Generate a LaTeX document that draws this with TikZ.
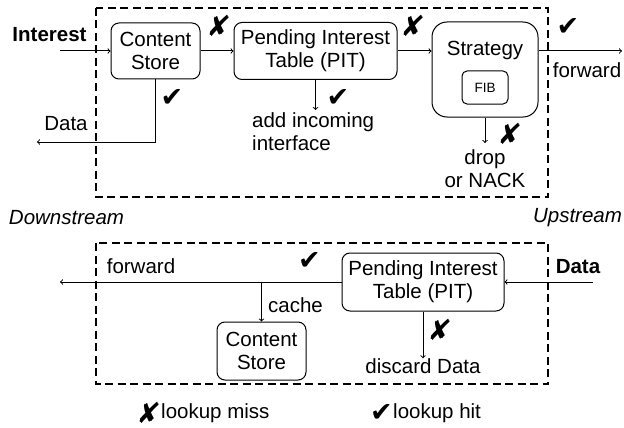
\documentclass[tikz,border=0pt]{standalone}
\usepackage{fontspec}
\setmainfont{Liberation Sans}
\newfontfamily\marksfont{DejaVu Sans}
\usetikzlibrary{arrows}

\newcommand{\yes}{{\marksfont\char"2714}}
\newcommand{\no}{{\marksfont\char"2718}}

\begin{document}
\begin{tikzpicture}[x=1pt,y=-1pt]
    \tikzstyle{edge}=[draw=black,line width=1pt,->]
    \tikzstyle{frame}=[draw=black,line width=1.8pt,dash pattern=on 8pt off 4.5pt]
    \tikzstyle{block}=[draw=black,line width=1pt,rounded corners=8pt,align=center,inner sep=0pt,
        font=\fontsize{20.5}{23}\selectfont]
    \tikzstyle{txt}=[inner sep=0pt,font=\fontsize{20.5}{23}\selectfont]
    \tikzstyle{tick}=[inner sep=0pt,font=\fontsize{27}{27}\selectfont]
    \tikzstyle{cross}=[inner sep=0pt,font=\fontsize{25}{25}\selectfont,xslant=0.2,yscale=1.15]

    \useasboundingbox (0,0) rectangle (624,428);

    \draw[frame] (96,8) rectangle (548,197);
    \draw[frame] (96,243) rectangle (548,384);

    % interest path
    \node[block,minimum width=89pt,minimum height=56pt] (csA) at (155.5,51) {Content\\Store};
    \node[block,minimum width=163pt,minimum height=57pt] (pitA) at (315.5,51) {Pending Interest\\Table (PIT)};
    \node[block,rounded corners=15pt,minimum width=106pt,minimum height=95pt] (strat) at (485,69.5) {};
    \node[txt] (stratL) at (485,50) {Strategy};
    \node[block,rounded corners=5pt,minimum width=46pt,minimum height=33pt,
        font=\fontsize{13.5}{14}\selectfont] (fib) at (485,87.5) {FIB};

    \coordinate (inA) at (60,51);
    \coordinate (outA) at (622,51);
    \coordinate (dataA) at (37,142);

    \node[txt,font=\fontsize{20.5}{23}\selectfont\bfseries] (interest) at (49.5,35) {Interest};
    \node[txt] (dataLA) at (66,124) {Data};
    \node[txt] (fwdLA) at (587,70) {forward};
    \node[txt,align=left,anchor=north west] (addif) at (252,112) {add incoming\\interface};
    \node[txt,align=center,anchor=north] (drop) at (485,149) {drop\\or NACK};

    \path[edge] (inA) -- (csA.west);
    \path[edge] (csA.east) -- (pitA.west);
    \path[edge] (pitA.east) -- (pitA.east -| strat.west);
    \path[edge] (pitA.east -| strat.east) -- (outA);
    \path[edge] (csA.south) |- (dataA);
    \path[edge] (pitA.south) -- ([yshift=2pt]pitA.south |- addif.north);
    \path[edge] (strat.south) -- ([yshift=6pt]drop.north);

    \node[cross] at (219,26) {\no};
    \node[cross] at (413,26) {\no};
    \node[tick] at (568,26.5) {\yes};
    \node[tick] at (172,98) {\yes};
    \node[tick] at (338,97.5) {\yes};
    \node[cross] at (510.5,134) {\no};

    \node[txt,font=\fontsize{20.5}{23}\selectfont\itshape] (down) at (66.5,218) {Downstream};
    \node[txt,font=\fontsize{20.5}{23}\selectfont\itshape] (up) at (577.5,218) {Upstream};

    % data path
    \node[block,minimum width=162pt,minimum height=58pt] (pitB) at (423,282) {Pending Interest\\Table (PIT)};
    \node[block,minimum width=89pt,minimum height=58pt] (csB) at (261.5,351) {Content\\Store};

    \coordinate (inB) at (593,282);
    \coordinate (outB) at (60,282);

    \node[txt,font=\fontsize{20.5}{23}\selectfont\bfseries] (dataLB) at (578,266.5) {Data};
    \node[txt] (fwdLB) at (141,266) {forward};
    \node[txt,anchor=west] (cacheL) at (268,305) {cache};
    \node[txt] (discard) at (423,366) {discard Data};

    \path[edge] (inB) -- (pitB.east);
    \path[edge] (pitB.west) -- (outB);
    \path[edge] (csB.north |- pitB.west) -- (csB.north);
    \path[edge] (pitB.south) -- (discard.north);

    \node[tick] at (309.5,260.5) {\yes};
    \node[cross] at (440,330) {\no};

    % legend
    \node[cross] (missM) at (149,413) {\no};
    \node[txt,anchor=west] (missL) at (161,413) {lookup miss};
    \node[tick] (hitM) at (381.5,413) {\yes};
    \node[txt,anchor=west] (hitL) at (393,413) {lookup hit};
\end{tikzpicture}
\end{document}
